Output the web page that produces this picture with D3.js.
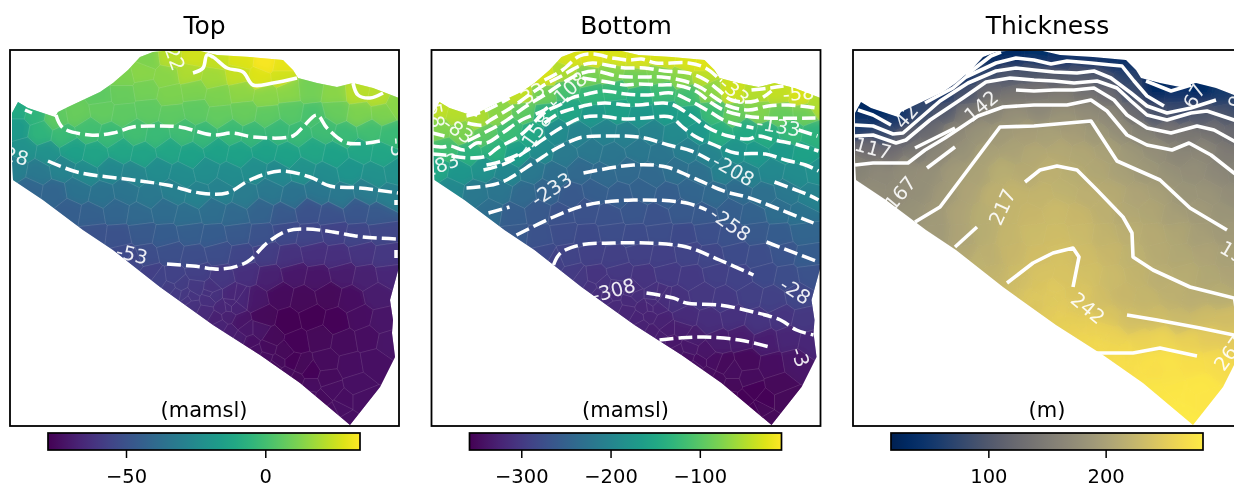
<!DOCTYPE html>
<html>
<head>
<meta charset="utf-8">
<script src="https://cdn.jsdelivr.net/npm/d3@7"></script>
<style>
  body { margin: 0; background: #fff; overflow: hidden; }
  svg { display: block; filter: blur(0.5px); }
  text { font-family: "DejaVu Sans", sans-serif; }
</style>
</head>
<body>
<svg id="chart" width="1234" height="485"></svg>
<script>
// Model outline and cell centres, in map units (0-389 across, 0-376 down)
var outline = [[2,63],[8,52],[18,58],[45,67],[48,62],[58,57],[90,42],[103,33],[118,20],[130,7],[143,2],[163,0],
  [190,1],[207,5],[240,7],[273,10],[283,20],[288,28],[307,33],[327,37],[343,33],[363,38],[389,48],[389,150],
  [389,217],[380,250],[383,270],[382,283],[385,307],[370,337],[340,375],[290,333],[250,305],[203,275],[150,237],
  [103,200],[73,180],[33,150],[3,130],[2,110]];

var siteX = [
  138,160,183,207,231,256,272,
  112,133,156,180,204,228,250,272,
  90,112,136,160,184,208,232,256,279,300,325,347,370,
  8,24,46,68,92,114,138,162,186,210,234,258,281,303,326,350,373,385,
  8,30,54,78,101,125,148,172,196,220,244,267,290,313,336,359,382,
  14,38,62,86,110,134,158,182,206,230,254,278,302,326,350,374,
  6,28,52,76,100,124,148,172,196,220,244,268,292,316,340,364,386,
  20,44,68,92,116,140,164,188,212,236,260,284,308,332,356,380,
  58,82,106,130,154,178,202,226,250,274,298,322,346,370,
  84,108,132,156,180,204,228,252,276,300,324,348,372,
  112,136,160,184,208,232,256,280,304,328,352,376,
  140,164,188,212,236,260,284,308,332,356,378,
  175,198,222,246,270,294,318,342,366,
  206,230,254,278,302,326,350,372,
  240,262,286,310,334,358,378,
  268,292,316,340,364,
  300,322,346,330,
  124,148,160,166,182,196,210,220,230,245,255,265,276,286,298,312,322,338,
  170,186,212,218,236,250,258,274,282,300,318,334,352,
  178,181,200,203,201,221,224,219,228,231];
var siteY = [
  9,6,7,9,10,13,16,
  27,22,27,23,28,24,28,26,
  46,44,40,45,41,46,42,46,42,40,44,42,47,
  60,64,68,64,60,64,60,65,60,66,62,66,62,66,60,64,62,54,
  78,82,86,80,86,82,86,82,86,82,85,81,84,80,86,82,86,
  100,104,100,105,100,105,100,106,100,105,100,106,100,105,100,104,
  118,122,118,124,120,125,120,126,120,126,120,124,120,126,121,126,122,
  140,144,140,145,141,146,141,146,140,146,141,146,141,146,141,146,
  162,166,162,166,161,167,161,167,161,166,161,166,161,166,
  184,187,182,187,182,187,182,186,181,186,181,186,181,
  205,207,202,208,202,207,203,208,203,208,203,208,
  224,228,223,228,223,228,223,228,223,228,224,
  245,250,245,250,245,250,245,250,245,
  268,272,267,272,267,272,267,272,
  292,288,292,288,292,288,292,
  312,316,312,316,312,
  335,340,335,358,
  212,230,238,243,255,262,276,282,288,302,308,316,324,330,347,350,362,372,
  235,238,258,266,280,280,298,302,312,322,328,350,350,
  249,247,243,245,240,254,257,257,246,248];

var topValues = [
  12,22,26,24,28,33,30,
  12,14,14,20,18,24,28,26,
  6,8,10,12,12,12,15,14,14,10,14,22,22,
  -10,-5,6,8,7,6,6,6,6,7,8,6,5,2,8,12,12,14,
  -18,-5,-2,0,-2,0,-2,-1,-3,-2,-3,-3,-2,-1,-2,0,-2,
  -22,-22,-15,-13,-12,-13,-12,-14,-14,-14,-14,-14,-12,-14,-12,-12,
  -30,-33,-28,-25,-26,-27,-24,-24,-23,-24,-23,-26,-22,-24,-20,-22,-22,
  -42,-42,-36,-36,-35,-33,-30,-29,-29,-32,-33,-36,-34,-33,-32,-30,
  -45,-44,-42,-40,-39,-38,-38,-40,-43,-47,-50,-50,-48,-47,
  -50,-50,-47,-46,-45,-46,-47,-50,-53,-55,-56,-55,-54,
  -53,-52,-51,-52,-52,-55,-58,-62,-63,-63,-61,-60,
  -57,-56,-57,-60,-63,-68,-71,-72,-70,-68,-66,
  -60,-63,-66,-71,-75,-76,-76,-74,-70,
  -68,-72,-76,-78,-78,-77,-74,-72,
  -73,-76,-77,-76,-75,-74,-72,
  -75,-76,-75,-74,-73,
  -74,-74,-73,-73,
  -54,-56,-58,-59,-62,-65,-67,-69,-70,-73,-74,-75,-75,-76,-74,-75,-74,-73,
  -58,-60,-66,-68,-71,-72,-75,-76,-77,-77,-75,-74,-73,
  -61,-61,-62,-62,-62,-66,-67,-66,-66,-66];

var bottomValues = [
  -30,-25,-28,-30,-30,-28,-25,
  -30,-52,-82,-75,-86,-80,-70,-45,
  -40,-85,-112,-128,-128,-142,-120,-115,-70,-35,-48,-40,-30,
  -42,-48,-52,-70,-95,-140,-152,-172,-162,-175,-165,-162,-120,-90,-75,-90,-85,-50,
  -75,-78,-97,-120,-150,-190,-205,-203,-208,-204,-192,-172,-140,-147,-145,-122,-133,
  -115,-135,-135,-165,-190,-215,-218,-222,-220,-222,-210,-200,-178,-172,-170,-158,
  -150,-175,-180,-198,-218,-235,-240,-238,-238,-240,-232,-230,-205,-205,-195,-190,-185,
  -195,-218,-222,-240,-248,-262,-255,-255,-250,-255,-245,-240,-237,-232,-218,-205,
  -235,-255,-262,-270,-270,-270,-265,-270,-262,-262,-255,-250,-234,-228,
  -260,-270,-275,-280,-276,-278,-276,-279,-272,-270,-262,-258,-245,
  -280,-288,-290,-293,-290,-292,-288,-285,-278,-275,-267,-258,
  -297,-305,-302,-306,-300,-300,-292,-289,-280,-277,-270,
  -314,-318,-310,-308,-303,-300,-293,-290,-285,
  -323,-326,-315,-312,-310,-306,-305,-303,
  -335,-332,-333,-332,-330,-322,-320,
  -345,-350,-350,-345,-338,
  -352,-355,-352,-352,
  -292,-302,-308,-312,-318,-322,-326,-328,-330,-338,-342,-344,-346,-350,-353,-354,-354,-352,
  -307,-310,-322,-324,-330,-328,-336,-340,-345,-347,-348,-354,-352,
  -316,-316,-313,-313,-313,-318,-320,-320,-312,-312];

var thicknessValues = [
  30,35,40,45,45,45,45,
  50,70,100,95,105,100,100,70,
  50,92,125,142,140,152,135,128,85,30,45,35,55,
  30,35,50,75,102,145,160,178,168,182,172,168,125,92,82,100,95,70,
  60,75,112,125,167,180,190,195,198,195,188,175,160,140,142,135,125,
  130,130,145,165,180,198,202,208,208,206,198,188,175,165,165,150,
  160,168,172,178,190,202,214,212,218,214,206,198,188,180,175,168,160,
  172,172,178,190,203,218,223,223,220,217,211,203,196,185,182,175,
  180,190,203,214,223,227,230,227,218,209,205,196,190,185,
  192,203,214,225,231,233,230,222,216,211,204,196,190,
  208,218,227,235,238,234,227,220,212,207,203,198,
  222,233,240,241,237,230,222,215,213,207,203,
  245,247,243,236,227,225,219,215,214,
  254,252,243,236,232,230,232,235,
  264,258,258,260,256,250,250,
  273,275,275,272,268,
  278,280,280,282,
  220,226,232,238,243,249,254,258,262,266,268,270,272,274,278,280,281,282,
  236,243,250,253,258,258,264,266,270,272,275,280,279,
  245,245,247,247,247,245,245,245,243,243];

// Contour traces, null marks a gap left for a label
var topDashed = [
  [[15,60],[22,63],null,[46,65],[53,78],[80,85],[103,83],[123,77],[147,76],[170,77],[203,85],[223,83],[243,87],[283,86],[293,77],[307,65],[317,78],[337,93],[370,91]],
  [[38,111],[67,122],[123,130],[157,135],[190,143],[217,143],[240,130],[270,121],[300,127],[320,136],[350,138],[388,143],null,[386,150],[386,155]],
  [[157,214],[183,216],[212,219],[237,212],[257,193],[277,181],[297,179],[323,182],[353,187],[388,189],null,[386,200],[386,208]]
];
var topSolid = [
  [[183,23],[193,18],[197,5],[203,7],[217,18],[233,22],[243,35],[263,33],[287,28]],
  [[343,33],[348,45],[360,48],[373,43]]
];
var bottomDashed = [
  [[35,66],[53,61],[78,48],null,[113,30],[131,20],[148,6],[161,4],[181,8],[197,10],[210,9],[224,13],[257,13],[274,18],[290,31],null,[320,40],[338,38],[352,36]],
  [[36,73],[51,75],[59,70],[79,58],[111,36],[130,26],[148,16],[161,13],[180,16],[194,18],[213,18],[233,21],[257,23],[274,30],[287,40],[300,50],[324,51],[340,41],null,[385,46]],
  [[1,83],[13,86],null,[36,91],[58,80],[71,73],[95,56],[113,45],[131,33],[148,24],[163,21],[186,26],[210,27],[230,27],[253,31],[270,38],[284,48],[297,56],[317,60],[337,56],[357,55],[385,58]],
  [[1,96],[11,97],[19,96],[33,100],[45,93],[55,93],[71,83],[90,70],[113,60],[121,53],null,[151,28],[176,32],[194,35],[207,34],[230,35],[244,35],[264,41],[280,53],[294,61],[314,66],[334,68],[384,68]],
  [[1,104],[13,105],[39,108],[55,106],[66,98],[88,86],[115,61],[128,55],[140,48],[156,44],[173,41],[194,44],[217,45],[240,43],[257,50],[277,61],[294,71],[322,78],null,[367,80],[386,86]],
  [[55,115],[71,111],[90,103],null,[113,73],[128,63],[148,57],[156,55],[173,53],[194,55],[207,55],[232,53],[242,55],[260,66],[277,78],[297,86],[317,89],[327,86],[343,90],[367,95],[387,101]],
  [[52,120],[75,113],[99,98],[129,78],[149,68],[166,66],[194,69],[213,68],[239,67],[250,76],[263,86],[283,95],[304,103],[334,104],[354,110],[374,115],[387,121]],
  [[35,138],[68,133],[102,113],[122,100],[142,90],[152,87],[182,86],[194,86],[213,88],[237,95],[260,101],[278,110],null,[343,132],[377,145],[387,150]],
  [[57,163],[78,157],null,[152,123],[202,115],[235,117],[262,128],[295,142],[315,147],[342,157],[382,173]],
  [[85,185],[122,167],[155,155],[202,150],[255,153],[275,160],null,[335,192],[387,212]],
  [[122,215],[129,203],[149,195],[182,193],[215,193],[255,197],[288,210],[322,225],null,[385,252]],
  [[215,243],[242,248],[255,253],[288,255],[322,262],[349,270],[365,280],[382,285]],
  [[228,290],[248,288],[272,287],[308,290],[338,297]]
];
var thicknessSolid = [
  [[113,25],[138,6],[148,2]],
  [[5,60],[20,65],[38,75],null,[72,53],[83,47],[100,38],[113,27],[143,13],[163,8],[181,10],[198,14],[214,11],[238,13],[258,15],[269,16],[281,31],[294,46],[311,56]],
  [[293,31],[318,41],[338,35]],
  [[2,75],[20,76],[40,84],[50,83],[65,70],[87,51],[115,33],[143,21],[163,18],[181,20],[201,22],[224,23],[241,21],[258,28],[278,43],[294,56],[314,63],[338,58],[363,50]],
  [[2,86],[20,85],[43,93],[53,90],[77,70],[110,48],[133,32],[157,28],[181,30],[201,31],[221,33],[244,31],[264,38],[278,51],[294,65],[314,70],[338,63],[354,61],[381,70],[390,73]],
  [[62,98],[102,78],null,[163,40],[181,41],[201,40],[221,40],[241,38],[261,50],[274,65],[294,78],[318,83],[344,76],[361,80],[381,91],[390,96]],
  [[2,115],[20,113],[55,113],[72,100],[92,88],[110,76],[125,66],[150,57],[181,55],[214,55],[238,50],[254,61],[274,85],[294,95],[319,100],[336,93],[358,105],[381,123],[390,130]],
  [[74,118],[102,97]],
  [[62,172],[87,157],[120,113],[147,77],[181,76],[238,71],[264,111],[307,130],[337,158],[374,180]],
  [[102,197],[124,177]],
  [[172,132],[187,120],[204,116],[224,120],[244,140],[270,167],[279,183],[280,207],[300,220],[337,237],[381,248],[390,250]],
  [[154,233],[180,213],[200,203],[220,198],[226,207],[220,237]],
  [[274,265],[304,270],[347,278],[381,285],[390,287]],
  [[244,303],[280,303],[307,298],[344,306]]
];

// Inline contour labels: text, x, y, angle
var topLabels = [["22",165,8,70],["-28",3,105,15],["-53",122,204,13],["-3",388,97,85]];
var bottomLabels = [["-58",4,62,80],["-83",27,80,35],["-183",6,116,-20],["-33",98,45,-30],["-108",136,40,-42],
  ["-158",103,83,-55],["-233",120,139,-33],["-308",182,240,-15],["-33",303,41,40],["-58",367,43,-5],["-133",347,76,10],
  ["-208",302,120,30],["-258",299,174,35],["-28",364,241,33],["-3",369,307,70]];
var thicknessLabels = [["42",53,66,-50],["117",20,98,15],["142",128,56,-40],["167",47,143,-50],["217",149,157,-65],
  ["242",235,258,40],["67",341,46,-60],["92",385,46,-70],["192",385,205,30],["267",376,303,-55]];

var topTicks = [-50, 0];
var bottomTicks = [-300, -200, -100];
var thicknessTicks = [100, 200];

var panels = [
  {title: "Top", unit: "(mamsl)", left: 10, values: topValues, range: [-78, 34], cmap: d3.interpolateViridis,
    dashed: topDashed, solid: topSolid, labels: topLabels, ticks: topTicks, curve: d3.curveCatmullRom.alpha(0.5), soft: 4, crisp: 0.5, edge: 0.3},
  {title: "Bottom", unit: "(mamsl)", left: 431.5, values: bottomValues, range: [-358, -8.5], cmap: d3.interpolateViridis,
    dashed: bottomDashed, solid: [], labels: bottomLabels, ticks: bottomTicks, curve: d3.curveCatmullRom.alpha(0.5), soft: 4, crisp: 0.5, edge: 0.3},
  {title: "Thickness", unit: "(m)", left: 853, values: thicknessValues, range: [17, 283], cmap: d3.interpolateCividis,
    dashed: [], solid: thicknessSolid, labels: thicknessLabels, ticks: thicknessTicks, curve: d3.curveLinear, soft: 6, crisp: 0.15, edge: 0.25}
];

var frameTop = 50, frameWidth = 389, frameHeight = 376;
var barOffset = 38, barWidth = 312, barTop = 433, barHeight = 17;

var svg = d3.select("#chart");
var defs = svg.append("defs");

var mapX = d3.scaleLinear().domain([0, 389]).range([0, frameWidth]);
var mapY = d3.scaleLinear().domain([0, 376]).range([0, frameHeight]);

var sites = siteX.map(function (x, i) { return [mapX(x), mapY(siteY[i])]; });
var voronoi = d3.Delaunay.from(sites).voronoi([-30, -30, frameWidth + 30, frameHeight + 30]);

defs.append("clipPath").attr("id", "outline-clip")
  .append("path")
  .attr("d", "M" + outline.map(function (d) { return mapX(d[0]) + "," + mapY(d[1]); }).join("L") + "Z");
defs.append("clipPath").attr("id", "frame-clip")
  .append("rect").attr("width", frameWidth).attr("height", frameHeight);

panels.forEach(function (panel, p) {
  var color = d3.scaleSequential(panel.cmap).domain(panel.range);
  var g = svg.append("g").attr("transform", "translate(" + panel.left + "," + frameTop + ")");

  var contourLine = d3.line()
    .defined(function (d) { return d !== null; })
    .x(function (d) { return mapX(d[0]); })
    .y(function (d) { return mapY(d[1]); })
    .curve(panel.curve);

  defs.append("filter").attr("id", "soft-" + p)
    .attr("filterUnits", "userSpaceOnUse")
    .attr("x", -30).attr("y", -30).attr("width", frameWidth + 60).attr("height", frameHeight + 60)
    .append("feGaussianBlur").attr("stdDeviation", panel.soft);

  // mesh cells: a softened layer under the cell polygons, so the steps stay low contrast
  var mesh = g.append("g").attr("clip-path", "url(#outline-clip)");
  mesh.append("g").attr("filter", "url(#soft-" + p + ")")
    .selectAll("path")
    .data(panel.values)
    .enter().append("path")
    .attr("d", function (d, i) { return voronoi.renderCell(i); })
    .attr("fill", function (d) { return color(d); })
    .attr("stroke", function (d) { return color(d); });
  mesh.append("g")
    .selectAll("path")
    .data(panel.values)
    .enter().append("path")
    .attr("d", function (d, i) { return voronoi.renderCell(i); })
    .attr("fill", function (d) { return color(d); })
    .attr("fill-opacity", panel.crisp)
    .attr("stroke", "#fff")
    .attr("stroke-opacity", panel.crisp * panel.edge)
    .attr("stroke-width", 0.5);

  var over = g.append("g").attr("clip-path", "url(#frame-clip)");

  over.selectAll(".dashed")
    .data(panel.dashed)
    .enter().append("path")
    .attr("class", "dashed")
    .attr("d", contourLine)
    .attr("fill", "none")
    .attr("stroke", "#fff")
    .attr("stroke-width", 3.5)
    .attr("stroke-dasharray", "14,5");

  over.selectAll(".solid")
    .data(panel.solid)
    .enter().append("path")
    .attr("class", "solid")
    .attr("d", contourLine)
    .attr("fill", "none")
    .attr("stroke", "#fff")
    .attr("stroke-width", 3.6)
    .attr("stroke-linejoin", "round");

  over.selectAll("text")
    .data(panel.labels)
    .enter().append("text")
    .attr("transform", function (d) {
      return "translate(" + mapX(d[1]) + "," + mapY(d[2]) + ") rotate(" + d[3] + ")";
    })
    .attr("text-anchor", "middle")
    .attr("dy", "0.36em")
    .attr("fill", "#fff")
    .attr("fill-opacity", 0.9)
    .attr("font-size", 19.5)
    .text(function (d) { return d[0]; });

  // frame, title, unit
  g.append("rect")
    .attr("width", frameWidth).attr("height", frameHeight)
    .attr("fill", "none").attr("stroke", "#000").attr("stroke-width", 1.8);

  g.append("text")
    .attr("x", frameWidth / 2).attr("y", -16.5)
    .attr("text-anchor", "middle").attr("font-size", 25).attr("fill", "#000")
    .text(panel.title);

  g.append("text")
    .attr("x", frameWidth / 2 - 0.5).attr("y", 367)
    .attr("text-anchor", "middle").attr("font-size", 21).attr("fill", "#000")
    .text(panel.unit);

  // colourbar
  var barScale = d3.scaleLinear().domain(panel.range).range([0, barWidth]);
  var gradId = "bar-grad-" + p;
  var grad = defs.append("linearGradient").attr("id", gradId);
  d3.range(0, 1.001, 0.05).forEach(function (t) {
    grad.append("stop").attr("offset", t).attr("stop-color", panel.cmap(t));
  });

  var bar = svg.append("g")
    .attr("transform", "translate(" + (panel.left + barOffset) + "," + barTop + ")");
  bar.append("rect")
    .attr("width", barWidth).attr("height", barHeight)
    .attr("fill", "url(#" + gradId + ")")
    .attr("stroke", "#000").attr("stroke-width", 1.7);

  var axis = bar.append("g")
    .attr("transform", "translate(0," + barHeight + ")")
    .call(d3.axisBottom(barScale).tickValues(panel.ticks).tickSize(8).tickPadding(11));
  axis.select(".domain").remove();
  axis.selectAll("line").attr("stroke", "#000").attr("stroke-width", 1.5);
  axis.selectAll("text")
    .attr("font-size", 19.5)
    .attr("fill", "#000")
    .style("font-family", '"DejaVu Sans", sans-serif');
});
</script>
</body>
</html>
